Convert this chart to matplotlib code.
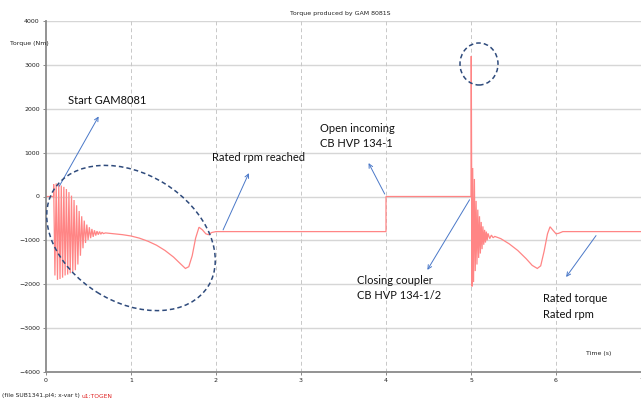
import matplotlib
matplotlib.use("Agg")
import matplotlib.pyplot as plt
from matplotlib.patches import Ellipse
from matplotlib.transforms import IdentityTransform

# ---- data ----
# start-up: flat zero, then oscillation peaks (upper/lower envelope)
start_t = [0.0, 0.09]
start_v = [0, 0]
osc1_t = [0.09, 0.12, 0.15, 0.18, 0.21, 0.24, 0.27, 0.30, 0.33, 0.36, 0.39,
          0.42, 0.45, 0.48, 0.51, 0.54, 0.57, 0.60, 0.63, 0.66]
osc1_up = [280, 300, 280, 250, 220, 170, 100, 20, -80, -200, -330,
           -450, -550, -640, -700, -740, -770, -790, -800, -815]
osc1_lo = [-1800, -1900, -1880, -1850, -1800, -1780, -1750, -1720, -1680, -1550, -1350,
           -1180, -1060, -990, -950, -920, -890, -870, -860, -845]
# acceleration / settling
acc_t = [0.70, 0.80, 0.90, 1.00, 1.10, 1.20, 1.30, 1.40, 1.50, 1.58, 1.64, 1.68,
         1.72, 1.76, 1.80, 1.84, 1.88, 1.91, 1.95, 2.00, 4.00]
acc_v = [-830, -850, -870, -900, -950, -1020, -1110, -1230, -1380, -1530, -1640, -1600,
         -1350, -950, -700, -760, -850, -870, -820, -800, -800]
# open incoming breaker -> zero torque
open_t = [4.00, 5.00]
open_v = [0, 0]
# closing coupler transient
cpl_t = [5.003, 5.012, 5.02, 5.03, 5.04, 5.05, 5.06, 5.07, 5.08, 5.09, 5.10, 5.11,
         5.12, 5.13, 5.14, 5.15, 5.16, 5.17, 5.18, 5.19, 5.20, 5.22, 5.24, 5.26, 5.28,
         5.35, 5.45, 5.55, 5.65, 5.72, 5.78, 5.82, 5.86, 5.90, 5.93, 5.96, 6.00, 6.03,
         6.08, 7.00]
cpl_v = [3200, -2050, 650, -1950, 400, -1700, -100, -1550, -300, -1400, -450, -1300,
         -580, -1200, -680, -1100, -760, -1050, -800, -1000, -840, -960, -880, -940, -910,
         -960, -1080, -1230, -1420, -1570, -1640, -1580, -1250, -850, -690, -760, -850, -840,
         -800, -800]

x_ticks = [0, 1, 2, 3, 4, 5, 6, 7]
y_ticks = [-4000, -3000, -2000, -1000, 0, 1000, 2000, 3000, 4000]

# build the trace
t_all = list(start_t)
v_all = list(start_v)
half = 0.015
for t, u, l in zip(osc1_t, osc1_up, osc1_lo):
    t_all += [t, t + half]
    v_all += [u, l]
t_all += acc_t + open_t + cpl_t
v_all += acc_v + open_v + cpl_v

fig = plt.figure(figsize=(6.41, 4.0), dpi=100)
ax = fig.add_axes([46 / 641, 28 / 400, 595 / 641, 351 / 400])

ax.plot(t_all, v_all, color="#ff8585", lw=0.9, solid_joinstyle="miter")

ax.set_xlim(0, 7)
ax.set_ylim(-4000, 4000)
ax.set_xticks(x_ticks)
ax.set_yticks(y_ticks)
ax.tick_params(labelsize=4.5, length=2.5, width=0.6, color="#777777",
               labelcolor="#222222", pad=2)
for s in ["top", "right"]:
    ax.spines[s].set_visible(False)
for s in ["left", "bottom"]:
    ax.spines[s].set_color("#8a8a8a")
    ax.spines[s].set_linewidth(1.3)

for y in y_ticks[1:]:
    ax.axhline(y, color="#d6d6d6", lw=1.0, zorder=0)
for x in x_ticks[1:]:
    ax.axvline(x, color="#c8c8c8", lw=0.7, ls=(0, (4, 3)), zorder=0)

fig.text(340 / 641, 1 - 13 / 400, "Torque produced by GAM 8081S", fontsize=4.5,
         ha="center", va="center", color="#222222")
fig.text(10 / 641, 1 - 44 / 400, "Torque (Nm)", fontsize=4.5, ha="left",
         va="center", color="#222222")
fig.text(599 / 641, 1 - 354 / 400, "Time (s)", fontsize=4.5, ha="center",
         va="center", color="#222222")
fig.text(2 / 641, 1 - 396 / 400, "(file SUB1341.pl4; x-var t)", fontsize=4.3,
         ha="left", va="center", color="#222222")
fig.text(82 / 641, 1 - 396 / 400, "u1:TOGEN", fontsize=4.3, ha="left",
         va="center", color="#e02020")

afont = dict(fontsize=8.0, family="Lato", color="#111111", linespacing=1.5)
arrow = dict(arrowstyle="->", color="#4a78c8", lw=0.7, mutation_scale=7)

ax.annotate("", xy=(0.635, 1880), xytext=(0.14, 180), arrowprops=arrow)
ax.text(0.26, 2180, "Start GAM8081", va="center", **afont)

ax.annotate("", xy=(2.40, 590), xytext=(2.07, -818), arrowprops=arrow)
ax.text(1.95, 886, "Rated rpm reached", va="center", **afont)

ax.annotate("", xy=(3.78, 818), xytext=(4.00, 0), arrowprops=arrow)
ax.text(3.22, 1375, "Open incoming\nCB HVP 134-1", va="center", **afont)

ax.annotate("", xy=(4.47, -1727), xytext=(5.00, -20), arrowprops=arrow)
ax.text(3.66, -2080, "Closing coupler\nCB HVP 134-1/2", va="center", **afont)

ax.annotate("", xy=(6.10, -1886), xytext=(6.49, -840), arrowprops=arrow)
ax.text(5.85, -2510, "Rated torque\nRated rpm", va="center", **afont)

# dashed ellipses (in pixel coordinates)
e1 = Ellipse((131, 400 - 238), 182, 128, angle=-32, fill=False,
             ls=(0, (3, 2)), lw=1.1, ec="#2f4b7c", transform=IdentityTransform())
e2 = Ellipse((479, 400 - 64), 38, 42, fill=False,
             ls=(0, (3, 2)), lw=1.1, ec="#2f4b7c", transform=IdentityTransform())
fig.patches.extend([e1, e2])

fig.savefig("out.png", dpi=100)
